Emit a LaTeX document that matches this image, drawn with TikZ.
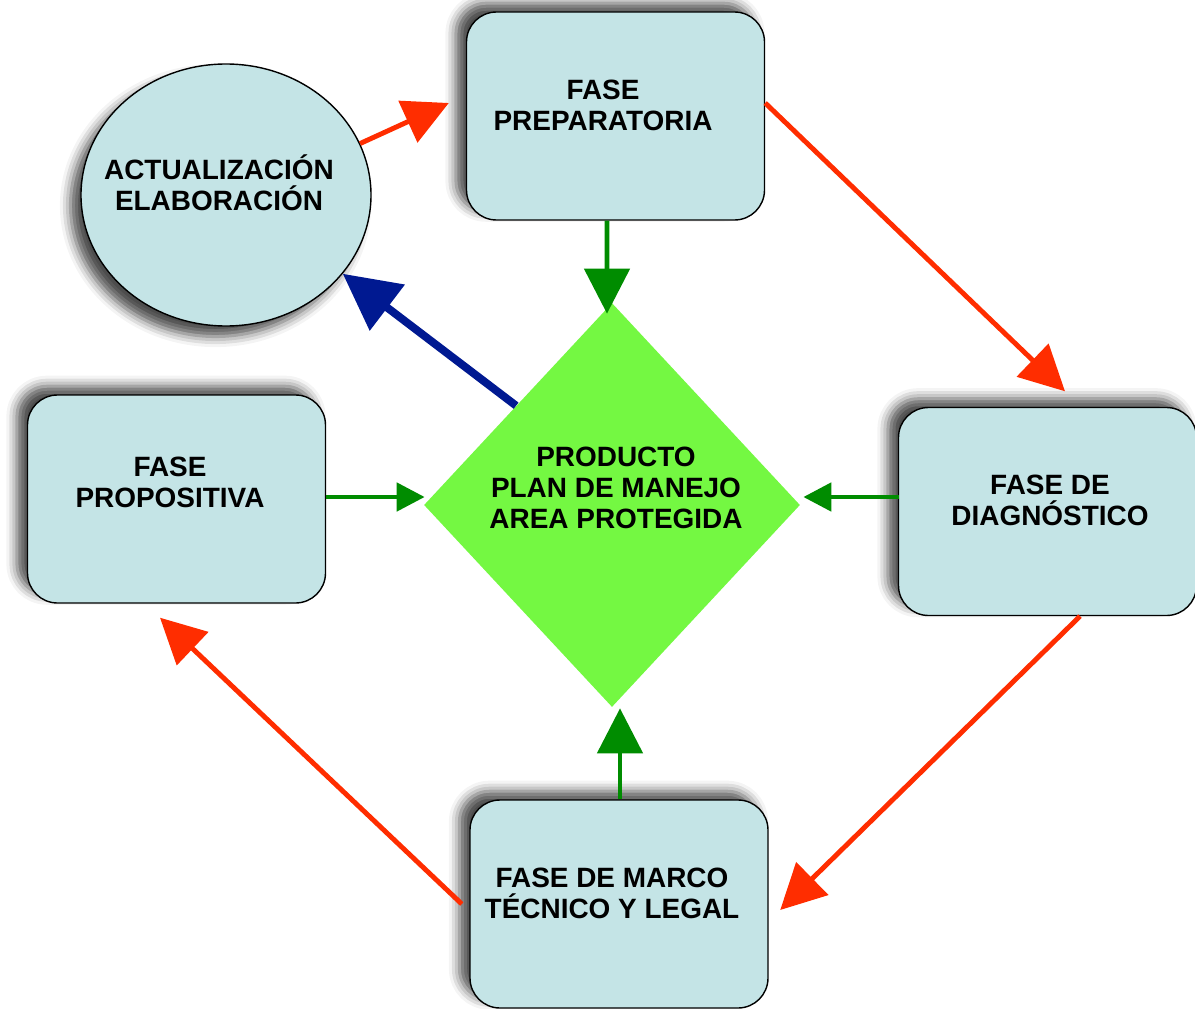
\documentclass[tikz,border=0pt]{standalone}
\usepackage{fontspec}
\setmainfont{Liberation Sans}
\usepackage{xcolor}
\usepackage{tikz}
\definecolor{boxcyan}{RGB}{196, 228, 230}
\definecolor{productgreen}{RGB}{116, 248, 66}
\definecolor{flowred}{RGB}{255, 45, 0}
\definecolor{flowgreen}{RGB}{0, 140, 0}
\definecolor{flowblue}{RGB}{0, 25, 145}
\usetikzlibrary{shapes.geometric, arrows.meta, positioning, calc, shadows.blur}

\begin{document}
\begin{tikzpicture}[
    phase/.style={rectangle, draw=black, thick, fill=boxcyan,
                  minimum width=5.96cm, minimum height=4.16cm, rounded corners=0.6cm,
                  blur shadow={shadow xshift=-6pt, shadow yshift=5pt, shadow blur radius=6pt, shadow opacity=70}},
    cycle/.style={ellipse, draw=black, thick, fill=boxcyan, inner sep=0pt,
                  minimum width=5.8cm, minimum height=5.24cm,
                  blur shadow={shadow xshift=-6pt, shadow yshift=-6pt, shadow blur radius=6pt, shadow opacity=70}},
    product/.style={diamond, fill=productgreen, inner sep=0pt,
                  minimum width=7.52cm, minimum height=8.08cm},
    caption/.style={inner sep=0pt, align=center, font=\fontsize{15.9}{17.6}\selectfont\bfseries},
    redflow/.style={-{Triangle[length=0.9cm, width=0.9cm]}, line width=2.8pt, flowred},
    greenbig/.style={-{Triangle[length=0.9cm, width=0.9cm]}, line width=2.8pt, flowgreen},
    greensmall/.style={-{Triangle[length=0.56cm, width=0.56cm]}, line width=2.8pt, flowgreen},
    blueflow/.style={-{Triangle[length=1.12cm, width=1.12cm]}, line width=4.5pt, flowblue}
]
    \useasboundingbox (0,0) rectangle (23.9,-20.18);

    % phases around the product
    \node[product] (plan) at (12.24,-10.1) {};
    \node[cycle] (update) at (4.52,-3.9) {};
    \node[phase] (prep) at (12.31,-2.32) {};
    \node[phase] (propos) at (3.53,-9.98) {};
    \node[phase] (diag) at (20.95,-10.23) {};
    \node[phase] (marco) at (12.38,-18.08) {};

    \node[caption] (plantxt) at ([shift={(0.08,0.34)}]plan.center) {PRODUCTO\\PLAN DE MANEJO\\AREA PROTEGIDA};
    \node[caption] (updatetxt) at ([shift={(-0.14,0.24)}]update.center) {ACTUALIZACIÓN\\ELABORACIÓN};
    \node[caption] (preptxt) at ([shift={(-0.25,0.22)}]prep.center) {FASE\\PREPARATORIA};
    \node[caption] (propostxt) at ([shift={(-0.13,0.34)}]propos.center) {FASE\\PROPOSITIVA};
    \node[caption] (diagtxt) at ([shift={(0.05,0.23)}]diag.center) {FASE DE\\DIAGNÓSTICO};
    \node[caption] (marcotxt) at ([shift={(-0.14,0.22)}]marco.center) {FASE DE MARCO\\TÉCNICO Y LEGAL};

    % outer cycle
    \draw[redflow] (update.21) -- ([shift={(-0.34,0.26)}]prep.west);
    \draw[redflow] ([yshift=0.26cm]prep.east) -- ([shift={(0.35,0.31)}]diag.north);
    \draw[redflow] ([xshift=0.65cm]diag.south) -- ([shift={(0.23,-0.12)}]marco.east);
    \draw[redflow] ([xshift=-0.15cm]marco.west) -- ([shift={(-0.33,-0.28)}]propos.south);

    % into the product
    \draw[greenbig] ([xshift=-0.17cm]prep.south) -- ([shift={(-0.1,-0.22)}]plan.north);
    \draw[greenbig] ([xshift=0.02cm]marco.north) -- ([shift={(0.16,-0.02)}]plan.south);
    \draw[greensmall] ([yshift=0.04cm]propos.east) -- ([shift={(0.02,0.16)}]plan.west);
    \draw[greensmall] ([shift={(0.03,0.29)}]diag.west) -- ([shift={(0.06,0.16)}]plan.east);

    \draw[blueflow] (plan.134) -- (update.-34);
\end{tikzpicture}
\end{document}
